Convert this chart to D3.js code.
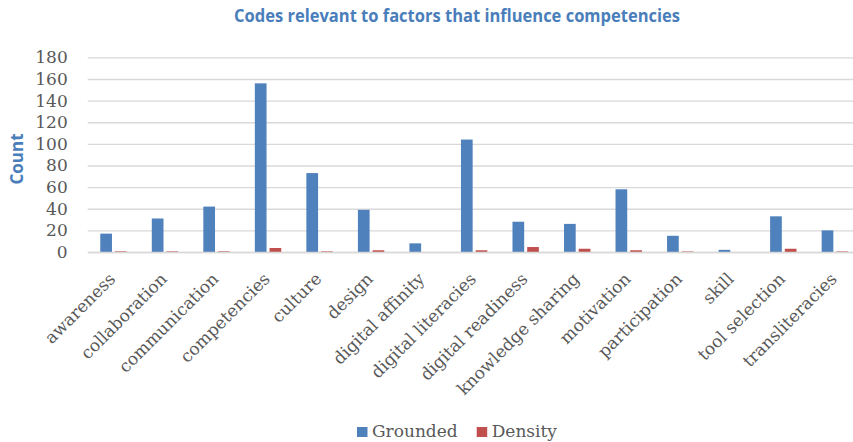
<!DOCTYPE html>
<html>
<head>
<meta charset="utf-8">
<script src="https://cdn.jsdelivr.net/npm/d3@7"></script>
<style>
  html, body { margin: 0; padding: 0; background: #ffffff; }
  svg { display: block; }
</style>
</head>
<body>
<div id="chart"></div>
<script>
// Code categories and counts per series
const categories = [
  "awareness", "collaboration", "communication", "competencies", "culture",
  "design", "digital affinity", "digital literacies", "digital readiness",
  "knowledge sharing", "motivation", "participation", "skill",
  "tool selection", "transliteracies"
];
const seriesNames = ["Grounded", "Density"];
const grounded = [17, 31, 42, 156, 73, 39, 8, 104, 28, 26, 58, 15, 2, 33, 20];
const density  = [0.6, 0.6, 0.6, 3.7, 0.6, 1.6, 0, 1.6, 4.6, 3, 1.6, 0.5, 0, 3, 0.5];
const yTicks = [0, 20, 40, 60, 80, 100, 120, 140, 160, 180];
const seriesColors = ["#4f81bd", "#c0504d"];

const W = 853, H = 442;
const plot = { left: 87.7, right: 860.6, top: 57.4, bottom: 252 };

const svg = d3.select("#chart").append("svg")
  .attr("width", W).attr("height", H);

const x = d3.scaleBand().domain(categories).range([plot.left, plot.right]).padding(0);
const xs = d3.scaleBand().domain(seriesNames).range([0, x.bandwidth()])
  .paddingInner(0.204).paddingOuter(0.855);
const y = d3.scaleLinear().domain([0, 180]).range([plot.bottom, plot.top]);

// Title
svg.append("text")
  .attr("x", 457).attr("y", 22)
  .attr("text-anchor", "middle")
  .attr("font-family", "'Liberation Sans Narrow', 'Open Sans', sans-serif")
  .attr("font-weight", "bold")
  .attr("font-size", 17)
  .attr("fill", "#4a7ebb")
  .attr("textLength", 446).attr("lengthAdjust", "spacingAndGlyphs")
  .text("Codes relevant to factors that influence competencies");

// Horizontal gridlines and y tick labels
const yAxis = d3.axisLeft(y).tickValues(yTicks).tickSize(-(W - plot.left)).tickPadding(20);
const gy = svg.append("g").attr("transform", `translate(${plot.left},0)`).call(yAxis);
gy.select(".domain").remove();
gy.selectAll(".tick line").attr("stroke", "#d9d9d9").attr("stroke-width", 1.4);
gy.selectAll(".tick text")
  .attr("font-family", "'DejaVu Serif', serif")
  .attr("font-size", 17)
  .attr("fill", "#595959");

// Y axis title
svg.append("text")
  .attr("transform", "translate(23,159) rotate(-90)")
  .attr("text-anchor", "middle")
  .attr("font-family", "'Open Sans', sans-serif")
  .attr("font-weight", "bold")
  .attr("font-size", 17)
  .attr("fill", "#4a7ebb")
  .text("Count");

// Bars
const rows = categories.map((c, i) => ({ cat: c, vals: [grounded[i], density[i]] }));
const groups = svg.append("g").selectAll("g").data(rows).join("g")
  .attr("transform", d => `translate(${x(d.cat)},0)`);
groups.selectAll("rect")
  .data(d => d.vals.map((v, k) => ({ key: seriesNames[k], v, k })))
  .join("rect")
  .attr("x", d => xs(d.key))
  .attr("width", xs.bandwidth())
  .attr("y", d => y(d.v))
  .attr("height", d => y(0) - y(d.v))
  .attr("fill", d => seriesColors[d.k]);

// Category labels along the bottom, rotated
const xAxis = d3.axisBottom(x).tickSize(0).tickPadding(0);
const gx = svg.append("g").attr("transform", `translate(0,${plot.bottom})`).call(xAxis);
gx.select(".domain").attr("stroke", "#d9d9d9").attr("stroke-width", 1.4);
gx.selectAll(".tick text")
  .attr("font-family", "'DejaVu Serif', serif")
  .attr("font-size", 17)
  .attr("fill", "#595959")
  .attr("text-anchor", "end")
  .attr("dy", null)
  .attr("transform", "translate(3,28) rotate(-45)");

// Legend
const legend = svg.append("g").attr("transform", "translate(357,427)");
const items = legend.selectAll("g").data(seriesNames).join("g")
  .attr("transform", (d, i) => `translate(${i * 119.7},0)`);
items.append("rect").attr("width", 10.5).attr("height", 10).attr("fill", (d, i) => seriesColors[i]);
items.append("text")
  .attr("x", 15).attr("y", 10)
  .attr("font-family", "'DejaVu Serif', serif")
  .attr("font-size", 17)
  .attr("fill", "#595959")
  .text(d => d);
</script>
</body>
</html>
